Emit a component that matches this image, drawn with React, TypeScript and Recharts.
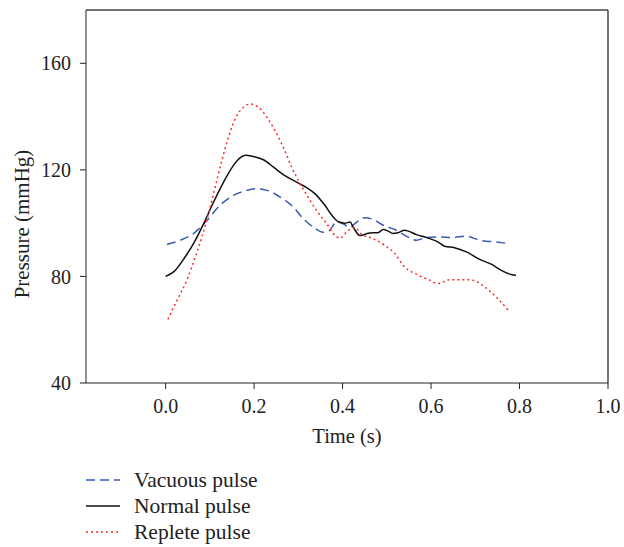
import React from 'react';
import { LineChart, Line, XAxis, YAxis, ReferenceLine, Legend } from 'recharts';

const vacuousT = [0.003, 0.033, 0.063, 0.09, 0.123, 0.153, 0.184, 0.202, 0.229, 0.259, 0.289, 0.311, 0.334, 0.356, 0.37, 0.386, 0.401, 0.416, 0.432, 0.45, 0.469, 0.492, 0.518, 0.544, 0.567, 0.589, 0.619, 0.649, 0.68, 0.71, 0.747, 0.778];
const vacuousP = [92, 93.6, 96.1, 100.4, 106.7, 110.4, 112.3, 112.9, 112.3, 109.8, 106, 101.7, 98.5, 96.6, 97.2, 100.4, 99.8, 98.5, 100.4, 102, 101.4, 99.2, 97.6, 95.1, 93.6, 94.6, 94.8, 94.6, 95.1, 93.6, 92.9, 92.3];

const normalT = [0.0, 0.018, 0.044, 0.063, 0.086, 0.105, 0.131, 0.153, 0.168, 0.18, 0.198, 0.221, 0.244, 0.266, 0.296, 0.319, 0.338, 0.36, 0.379, 0.392, 0.405, 0.417, 0.424, 0.439, 0.462, 0.48, 0.492, 0.503, 0.514, 0.525, 0.54, 0.567, 0.597, 0.616, 0.631, 0.653, 0.68, 0.71, 0.736, 0.762, 0.781, 0.792];
const normalP = [80, 81.7, 87.3, 92.3, 99.8, 106.7, 115.4, 121.6, 124.5, 125.5, 125, 123.8, 121, 118.2, 115.4, 113.3, 111, 106.7, 102.3, 100.4, 100, 100.4, 98.5, 95.4, 96.3, 96.4, 97.6, 97, 96.1, 96.4, 97.3, 95.7, 94.2, 92.9, 91.3, 90.8, 89.2, 86.4, 84.6, 82, 80.7, 80.4];

const repleteT = [0.005, 0.026, 0.048, 0.067, 0.082, 0.097, 0.112, 0.127, 0.142, 0.161, 0.176, 0.191, 0.21, 0.229, 0.247, 0.266, 0.285, 0.304, 0.322, 0.341, 0.364, 0.383, 0.394, 0.413, 0.428, 0.443, 0.469, 0.495, 0.518, 0.54, 0.567, 0.597, 0.616, 0.642, 0.672, 0.694, 0.721, 0.747, 0.776];
const repleteP = [63.9, 71.1, 78.6, 87.3, 94.8, 103.6, 113.5, 123.5, 132.2, 140.4, 143.5, 144.7, 143.5, 139.7, 134.8, 128.5, 121, 114.8, 109.8, 104.8, 99.8, 95.4, 94.4, 97.3, 98.3, 95.8, 94.2, 91.7, 88.6, 83.6, 80.8, 78.6, 77.3, 78.8, 78.8, 78.6, 76.1, 72.3, 67];

const xTicks = [0, 0.2, 0.4, 0.6, 0.8, 1.0];
const yTicks = [40, 80, 120, 160];

const toPoints = (t: number[], p: number[]) => t.map((x, i) => ({ t: x, p: p[i] }));

const font = '"Liberation Serif", "Times New Roman", serif';
const ink = '#222';

const series = [
  { name: 'Vacuous pulse', color: '#3b5bb0', dash: '9 5', data: toPoints(vacuousT, vacuousP) },
  { name: 'Normal pulse', color: '#111', dash: undefined, data: toPoints(normalT, normalP) },
  { name: 'Replete pulse', color: '#ff2a2a', dash: '2 3', data: toPoints(repleteT, repleteP) },
];

const LegendBox = () => (
  <div style={{ fontFamily: font, fontSize: 21.5, color: ink }}>
    {series.map(s => (
      <div key={s.name} style={{ display: 'flex', alignItems: 'center', height: 26 }}>
        <svg width={34} height={4}>
          <line x1={0} y1={2} x2={34} y2={2} stroke={s.color} strokeWidth={1.5} strokeDasharray={s.dash} />
        </svg>
        <span style={{ marginLeft: 14 }}>{s.name}</span>
      </div>
    ))}
  </div>
);

// y label sits a bit below the plot's centre in the original
const YLabel = () => (
  <text x={22} y={224} transform="rotate(-90 22 224)" textAnchor="middle" dominantBaseline="central"
    fill={ink} fontSize={21} fontFamily={font}>
    Pressure (mmHg)
  </text>
);

export default function App() {
  return (
    <div style={{ position: 'absolute', left: 0, top: 0 }}>
      <LineChart width={624} height={547} margin={{ top: 10, right: 16, bottom: 94, left: 0 }}>
        <XAxis
          dataKey="t"
          type="number"
          domain={[-0.18, 1.0]}
          ticks={xTicks}
          allowDataOverflow
          tickFormatter={(v: number) => v.toFixed(1)}
          tickSize={6}
          tickMargin={10}
          height={70}
          stroke={ink}
          tick={{ fill: ink, fontSize: 20, fontFamily: font }}
          label={{ value: 'Time (s)', position: 'insideBottom', offset: 10, fill: ink, fontSize: 20.5, fontFamily: font }}
        />
        <YAxis
          type="number"
          domain={[40, 180]}
          ticks={yTicks}
          allowDataOverflow
          width={86}
          tickSize={6}
          tickMargin={9}
          stroke={ink}
          tick={{ fill: ink, fontSize: 20, fontFamily: font }}
          label={<YLabel />}
        />
        <ReferenceLine y={180} stroke="#444" strokeWidth={1.5} />
        <ReferenceLine x={1.0} stroke="#444" strokeWidth={1.5} />
        {series.map(s => (
          <Line
            key={s.name}
            data={s.data}
            dataKey="p"
            name={s.name}
            type="monotone"
            stroke={s.color}
            strokeWidth={1.5}
            strokeDasharray={s.dash}
            dot={false}
            activeDot={false}
            isAnimationActive={false}
          />
        ))}
        <Legend
          verticalAlign="middle"
          align="center"
          layout="horizontal"
          content={() => <LegendBox />}
          wrapperStyle={{ left: 86, top: 467, width: 'auto', height: 'auto' }}
        />
      </LineChart>
    </div>
  );
}
